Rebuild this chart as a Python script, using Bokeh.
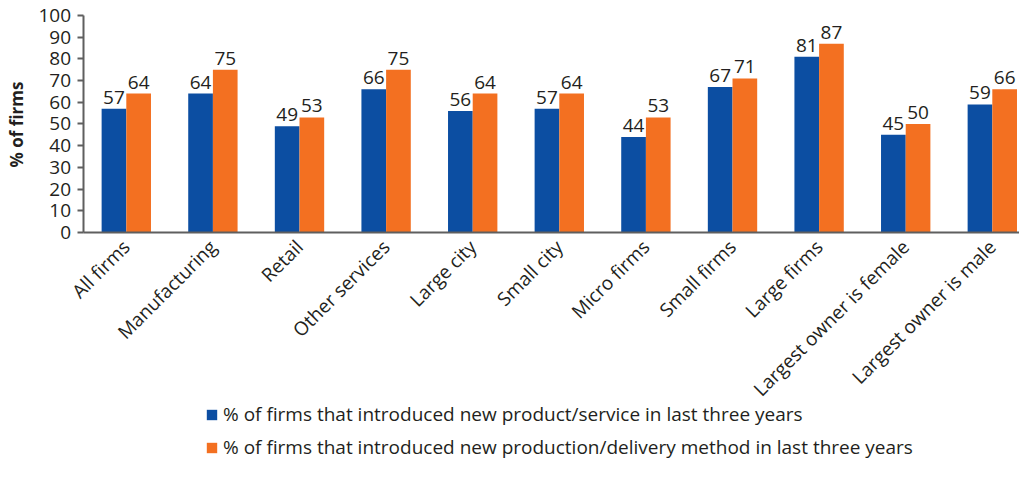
from math import pi
from bokeh.plotting import figure
from bokeh.models import (ColumnDataSource, Range1d, FixedTicker, Legend, LegendItem,
                          LabelSet, Label)
from bokeh.core.properties import value
from bokeh.embed import file_html
from bokeh.resources import INLINE

categories = ["All firms", "Manufacturing", "Retail", "Other services", "Large city",
              "Small city", "Micro firms", "Small firms", "Large firms",
              "Largest owner is female", "Largest owner is male"]
product_service = [57, 64, 49, 66, 56, 57, 44, 67, 81, 45, 59]
production_method = [64, 75, 53, 75, 64, 64, 53, 71, 87, 50, 66]
series_names = ["% of firms that introduced new product/service in last three years",
                "% of firms that introduced new production/delivery method in last three years"]
y_ticks = list(range(0, 101, 10))
y_title = "% of firms"

BLUE = "#0c4ea2"
ORANGE = "#f37021"
FONT = "Open Sans"
TXT = "#231f20"
AXC = "#5f5f5f"

W, H = 1019, 461
centers = [i + 0.5 for i in range(len(categories))]
bw = 0.285
src = ColumnDataSource(dict(
    xb=[c - bw / 2 for c in centers], xo=[c + bw / 2 for c in centers],
    b=product_service, o=production_method,
    bl=[str(v) for v in product_service], ol=[str(v) for v in production_method],
))

# the frame covers the whole canvas; both axes are pinned at 0 so nothing is clipped
X0, XEND = -0.9527, 10.814
Y0, YEND = -105.53, 106.91
p = figure(width=W, height=H, output_backend="svg", toolbar_location=None,
           x_range=Range1d(X0, XEND), y_range=Range1d(Y0, YEND))
p.min_border_left = 0
p.min_border_right = 0
p.min_border_top = 0
p.min_border_bottom = 0
p.outline_line_color = None
p.xgrid.visible = False
p.ygrid.visible = False
p.background_fill_color = "white"
p.border_fill_color = "white"

rb = p.vbar(x="xb", top="b", width=bw, source=src, fill_color=BLUE, line_color=None)
ro = p.vbar(x="xo", top="o", width=bw, source=src, fill_color=ORANGE, line_color=None)

for xcol, ycol, tcol in (("xb", "b", "bl"), ("xo", "o", "ol")):
    p.add_layout(LabelSet(x=xcol, y=ycol, text=tcol, source=src, text_align="center",
                          text_baseline="bottom", y_offset=5, text_font=value(FONT),
                          text_font_size=value("19px"), text_color=value(TXT)))

# category axis
xa = p.xaxis[0]
xa.fixed_location = 0
xa.bounds = (0, XEND)
xa.ticker = FixedTicker(ticks=centers)
xa.major_label_overrides = {c: name for c, name in zip(centers, categories)}
xa.major_label_orientation = pi / 4
xa.major_tick_out = 0
xa.major_tick_in = 0
xa.minor_tick_out = 0
xa.minor_tick_in = 0
xa.major_label_standoff = 11
xa.axis_line_color = AXC
xa.axis_line_width = 2
xa.major_label_text_font = FONT
xa.major_label_text_font_size = "19px"
xa.major_label_text_color = TXT

# value axis
ya = p.yaxis[0]
ya.fixed_location = 0
ya.bounds = (0, 100)
ya.ticker = FixedTicker(ticks=y_ticks)
ya.major_tick_out = 6
ya.major_tick_in = 0
ya.minor_tick_out = 0
ya.minor_tick_in = 0
ya.major_tick_line_color = AXC
ya.major_tick_line_width = 2
ya.axis_line_color = AXC
ya.axis_line_width = 2
ya.major_label_standoff = 6
ya.major_label_text_font = FONT
ya.major_label_text_font_size = "19px"
ya.major_label_text_color = TXT

p.add_layout(Label(x=16, y=H - 124, x_units="screen", y_units="screen", text=y_title,
                   angle=pi / 2, text_align="center", text_baseline="middle",
                   text_font=FONT, text_font_size="17px", text_font_style="bold",
                   text_color=TXT))

legend = Legend(items=[LegendItem(label=series_names[0], renderers=[rb]),
                       LegendItem(label=series_names[1], renderers=[ro])],
                location=(205, 1), orientation="vertical",
                glyph_width=13, glyph_height=13, label_height=20, spacing=7,
                label_standoff=5, padding=0, margin=0, border_line_color=None,
                background_fill_alpha=0, label_text_font=FONT,
                label_text_font_size="19px", label_text_color=TXT)
p.add_layout(legend)

open("out.html", "w").write(file_html(p, INLINE))
